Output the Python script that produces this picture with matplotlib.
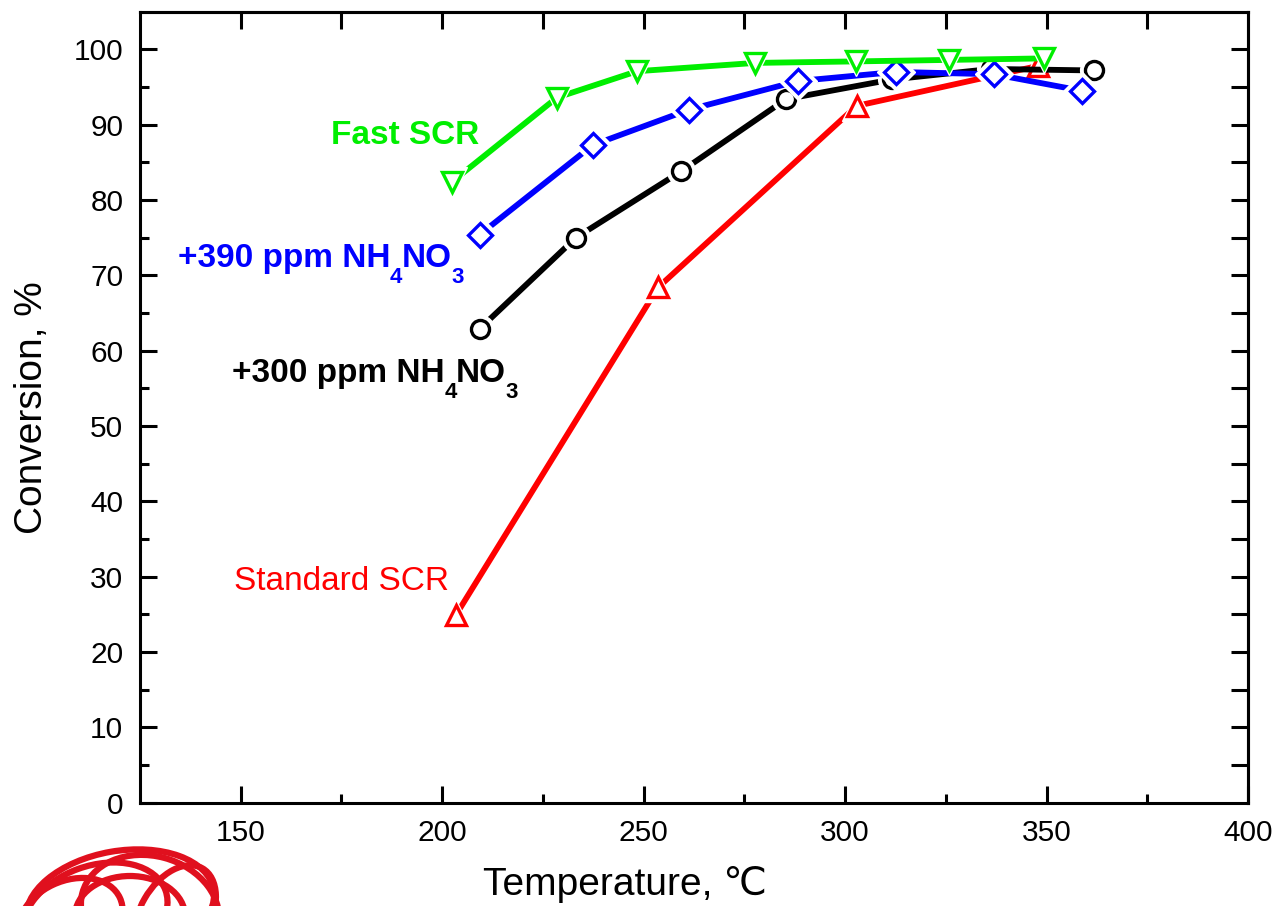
import matplotlib
matplotlib.use("Agg")
import matplotlib.pyplot as plt
from matplotlib.patches import Ellipse
from matplotlib.transforms import IdentityTransform, Bbox

# ---------------- data ----------------
fast_T = [202.4, 228.5, 248.4, 277.7, 302.6, 325.7, 349.4]
fast_X = [82.4, 93.6, 97.1, 98.2, 98.4, 98.6, 98.8]

nh390_T = [209.3, 237.4, 261.3, 288.4, 312.6, 336.9, 358.8]
nh390_X = [75.4, 87.3, 92.0, 95.8, 97.0, 96.7, 94.5]

nh300_T = [209.3, 233.2, 259.3, 285.4, 311.6, 336.2, 361.8]
nh300_X = [62.9, 75.0, 83.8, 93.4, 96.0, 97.4, 97.2]

std_T = [203.4, 253.6, 302.9, 347.9]
std_X = [24.9, 68.4, 92.5, 97.8]

x_ticks = [150, 200, 250, 300, 350, 400]
y_ticks = [0, 10, 20, 30, 40, 50, 60, 70, 80, 90, 100]

# ---------------- style ----------------
plt.rcParams['font.family'] = ['Liberation Sans', 'DejaVu Sans']

fig = plt.figure(figsize=(12.78, 9.06), dpi=100)
ax = fig.add_axes([0.1095, 0.1140, 0.8670, 0.8731])
ax.set_xlim(125, 400)
ax.set_ylim(0, 105)

series = [
    (std_T, std_X, '#ff0000', '^', 15),
    (nh300_T, nh300_X, '#000000', 'o', 13),
    (nh390_T, nh390_X, '#0000ff', 'D', 12),
    (fast_T, fast_X, '#00ee00', 'v', 15),
]
z = 2
for T, X, c, m, ms in series:
    ax.plot(T, X, color=c, lw=4.2, zorder=z, solid_capstyle='round')
    ax.plot(T, X, ls='none', marker=m, ms=ms + 7, mfc='white', mec='white',
            mew=1, zorder=z + 0.1)
    ax.plot(T, X, ls='none', marker=m, ms=ms, mfc='none', mec=c,
            mew=2.4, zorder=z + 0.2)
    z += 1

# ---------------- axes / ticks ----------------
for s in ax.spines.values():
    s.set_linewidth(2.2)
ax.set_xticks(x_ticks)
ax.set_xticks([175, 225, 275, 325, 375], minor=True)
ax.set_yticks(y_ticks)
ax.set_yticks([5, 15, 25, 35, 45, 55, 65, 75, 85, 95], minor=True)
ax.tick_params(which='major', direction='in', length=12, width=2.2,
               labelsize=21.5, pad=12, top=False, right=False)
ax.tick_params(which='minor', direction='in', length=6.5, width=2.2,
               top=False, right=False)

top = ax.secondary_xaxis('top')
top.set_xticks([150, 175, 200, 225, 250, 275, 300, 325, 350, 375])
top.tick_params(direction='in', length=12, width=2.2, labeltop=False)
right = ax.secondary_yaxis('right')
right.set_yticks([5, 10, 15, 20, 25, 30, 35, 40, 45, 50, 55, 60, 65, 70, 75,
                  80, 85, 90, 95, 100])
right.tick_params(direction='in', length=12, width=2.2, labelright=False)
for sec in (top, right):
    for s in sec.spines.values():
        s.set_linewidth(2.2)

ax.set_xlabel('Temperature, ℃', fontsize=28)
ax.set_ylabel('Conversion, %', fontsize=28)
ax.xaxis.set_label_coords(0.438, -0.104)
ax.yaxis.set_label_coords(-0.0975, 0.5)
ax.xaxis.label.set_va('center')
ax.yaxis.label.set_va('center')


# ---------------- labels ----------------
class _Anchor:
    """Bbox whose left edge is the right edge of text `t` and whose bottom
    is the baseline of the first text `base`."""
    def __init__(self, t, base):
        self.t = t
        self.base = base

    def __call__(self, renderer):
        bb = self.t.get_window_extent(renderer)
        bx = self.base.get_window_extent(renderer)
        _, _, d = renderer.get_text_width_height_descent(
            'Hp', self.base.get_fontproperties(), ismath=False)
        yb = bx.y0 + d
        return Bbox([[bb.x1, yb], [bb.x1 + 1, yb + 1]])


def chem_label(x, y, color, prefix):
    parts = [(prefix + 'NH', False), ('4', True), ('NO', False), ('3', True)]
    base = None
    anchor = None
    for txt, sub in parts:
        fs = 16 if sub else 24
        dy = -11 if sub else 0
        if base is None:
            t = ax.text(x, y, txt, color=color, fontsize=fs, fontweight='bold',
                        va='baseline', ha='left')
            base = t
        else:
            t = ax.annotate(txt, xy=(0, 0), xycoords=anchor,
                            xytext=(-0.5, dy), textcoords='offset points',
                            color=color, fontsize=fs, fontweight='bold',
                            va='baseline', ha='left')
        anchor = _Anchor(t, base)


ax.text(172.3, 87.5, 'Fast SCR', color='#00ee00', fontsize=24,
        fontweight='bold', va='baseline', ha='left')
chem_label(134.5, 71.05, '#0000ff', '+390 ppm ')
chem_label(147.9, 55.8, '#000000', '+300 ppm ')
ax.text(148.4, 28.3, 'Standard SCR', color='#ff0000', fontsize=24,
        va='baseline', ha='left')

# ---------------- decorative logo (bottom-left) ----------------
for cx, cy, w, h, ang in [(120, 0, 190, 110, 10), (150, -5, 140, 110, -15),
                          (95, -10, 150, 100, 20), (130, -10, 110, 80, 0),
                          (175, -10, 70, 110, -30), (70, -15, 110, 80, 25)]:
    fig.patches.append(Ellipse((cx, cy), w, h, angle=ang, fill=False,
                               ec='#e0101e', lw=4.5,
                               transform=IdentityTransform(), figure=fig))

fig.savefig('out.png', dpi=100)
